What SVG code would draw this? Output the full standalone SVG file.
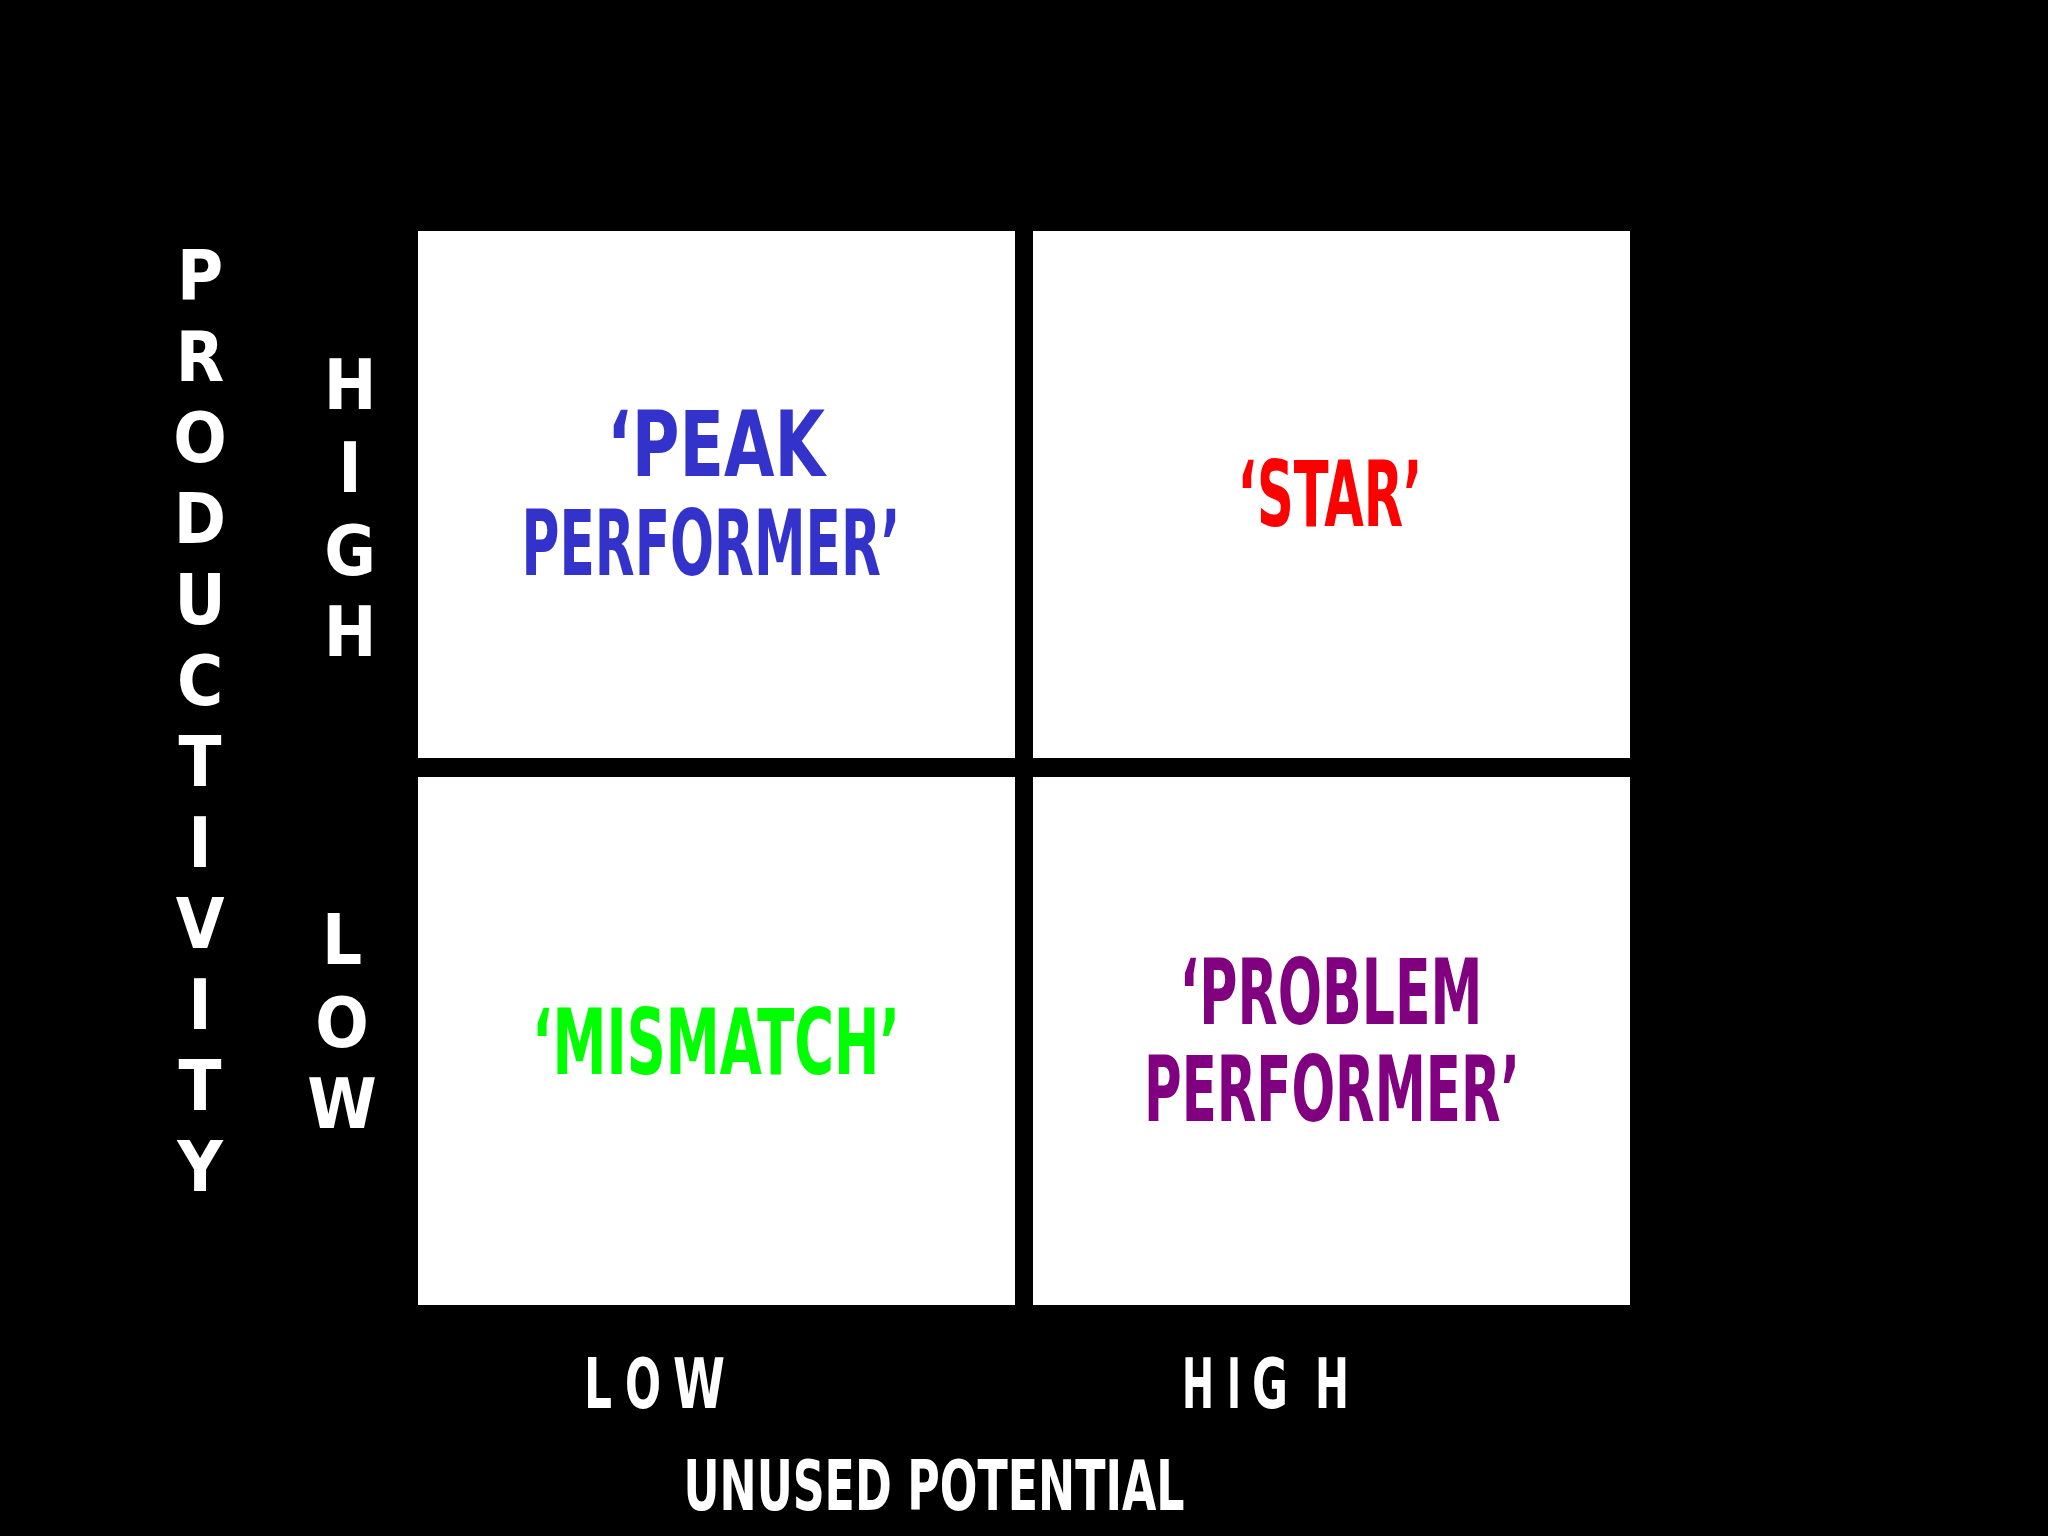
<svg xmlns="http://www.w3.org/2000/svg" width="2048" height="1536" viewBox="0 0 2048 1536">
<style>
text{font-family:"DejaVu Sans Condensed","Liberation Sans",sans-serif;font-weight:bold;text-anchor:middle}
.q{font-size:90px}
.ax{font-size:70px;fill:#fff}
.box{fill:#fff}
</style>
<rect width="2048" height="1536" fill="#000"/>
<g id="peak"><rect class="box" x="418" y="231" width="597" height="527"/>
<text class="q" x="716" y="476" fill="#3333cc" textLength="218" lengthAdjust="spacingAndGlyphs">‘PEAK</text><text class="q" x="711" y="575" fill="#3333cc" textLength="379" lengthAdjust="spacingAndGlyphs">PERFORMER’</text></g>
<g id="star"><rect class="box" x="1033" y="231" width="597" height="527"/>
<text class="q" x="1330" y="526" fill="#ff0000" textLength="185" lengthAdjust="spacingAndGlyphs">‘STAR’</text></g>
<g id="mismatch"><rect class="box" x="418" y="777" width="597" height="528"/>
<text class="q" x="716" y="1074" fill="#00ff00" textLength="368" lengthAdjust="spacingAndGlyphs">‘MISMATCH’</text></g>
<g id="problem"><rect class="box" x="1033" y="777" width="597" height="528"/>
<text class="q" x="1331" y="1024" fill="#800080" textLength="303" lengthAdjust="spacingAndGlyphs">‘PROBLEM</text><text class="q" x="1332" y="1121" fill="#800080" textLength="376" lengthAdjust="spacingAndGlyphs">PERFORMER’</text></g>
<g id="yaxis" class="ax">
<text x="200" y="300">P</text><text x="200" y="381">R</text><text x="200" y="462">O</text><text x="200" y="543">D</text><text x="200" y="624">U</text><text x="200" y="705">C</text><text x="200" y="786">T</text><text x="200" y="867">I</text><text x="200" y="948">V</text><text x="200" y="1029">I</text><text x="200" y="1110">T</text><text x="200" y="1191">Y</text>
<text x="350" y="409">H</text><text x="350" y="492">I</text><text x="350" y="575">G</text><text x="350" y="656">H</text>
<text x="342" y="964">L</text><text x="342" y="1047">O</text><text x="342" y="1128">W</text>
</g>
<g id="xaxis" class="ax">
<text x="598" y="1408" textLength="28" lengthAdjust="spacingAndGlyphs">L</text><text x="643" y="1408" textLength="36" lengthAdjust="spacingAndGlyphs">O</text><text x="699" y="1408" textLength="52" lengthAdjust="spacingAndGlyphs">W</text>
<text x="1198" y="1408" textLength="32" lengthAdjust="spacingAndGlyphs">H</text><text x="1234" y="1408" textLength="14" lengthAdjust="spacingAndGlyphs">I</text><text x="1270" y="1408" textLength="36" lengthAdjust="spacingAndGlyphs">G</text><text x="1332" y="1408" textLength="34" lengthAdjust="spacingAndGlyphs">H</text>
<text x="934" y="1510" textLength="501" lengthAdjust="spacingAndGlyphs">UNUSED POTENTIAL</text>
</g>
</svg>
